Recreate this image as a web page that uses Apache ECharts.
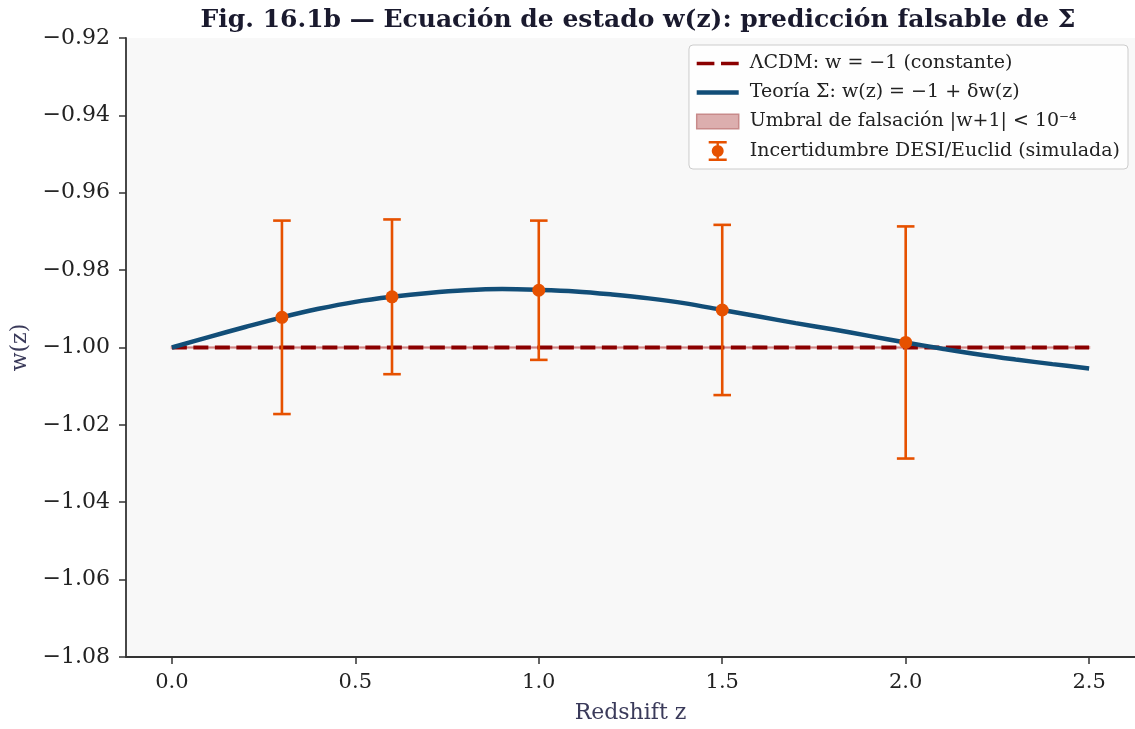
<!DOCTYPE html>
<html>
<head>
<meta charset="utf-8">
<script src="https://cdn.jsdelivr.net/npm/echarts@6/dist/echarts.min.js"></script>
<style>
  html, body { margin: 0; padding: 0; background: #ffffff; }
  #chart { width: 1135px; height: 729px; }
</style>
</head>
<body>
<div id="chart"></div>
<script>
// Redshift samples of the Σ-theory equation of state w(z)
const curveZ = [0, 0.1, 0.2, 0.3, 0.4, 0.5, 0.6, 0.7, 0.8, 0.9, 1.0, 1.1, 1.2,
                1.3, 1.4, 1.5, 1.6, 1.7, 1.8, 1.9, 2.0, 2.1, 2.2, 2.3, 2.4, 2.5];
const curveW = [-1.0000, -0.9973, -0.9947, -0.9922, -0.9900, -0.9882, -0.9869,
                -0.9859, -0.9852, -0.9849, -0.9851, -0.9855, -0.9863, -0.9873,
                -0.9886, -0.9903, -0.9920, -0.9937, -0.9953, -0.9970, -0.9987,
                -1.0003, -1.0018, -1.0031, -1.0043, -1.0054];

// ΛCDM reference: constant w = -1
const lcdmZ = [0, 2.5];
const lcdmW = [-1, -1];

// Falsification threshold band |w+1| < 1e-4
const bandZ = [0, 2.5];
const bandThreshold = 1e-4;

// Simulated DESI/Euclid measurements
const obsZ = [0.3, 0.6, 1.0, 1.5, 2.0];
const obsW = [-0.9922, -0.9869, -0.9852, -0.9903, -0.9987];
const obsErr = [0.025, 0.020, 0.018, 0.022, 0.030];

// Axis ticks
const xTicks = [0, 0.5, 1.0, 1.5, 2.0, 2.5];
const yTicks = [-1.08, -1.06, -1.04, -1.02, -1.00, -0.98, -0.96, -0.94, -0.92];

const NAMES = {
  lcdm: 'ΛCDM: w = −1 (constante)',
  sigma: 'Teoría Σ: w(z) = −1 + δw(z)',
  band: 'Umbral de falsación |w+1| < 10⁻⁴',
  obs: 'Incertidumbre DESI/Euclid (simulada)'
};

const C = {
  lcdm: '#8b0000',
  sigma: '#124e78',
  obs: '#e65100',
  bandFill: 'rgba(178,34,34,0.32)',
  axis: '#333333',
  text: '#222222',
  label: '#3a3a5a'
};

const SERIF = '"DejaVu Serif", serif';
const minus = s => s.replace('-', '\u2212');

const chart = echarts.init(document.getElementById('chart'), null, { renderer: 'canvas' });

const curveData = curveZ.map((z, i) => [z, curveW[i]]);
const lcdmData = lcdmZ.map((z, i) => [z, lcdmW[i]]);
const obsData = obsZ.map((z, i) => [z, obsW[i], obsErr[i]]);
const bandData = [[bandZ[0], bandZ[1], -1 - bandThreshold, -1 + bandThreshold]];

// Legend glyphs
const ICON_DASH = 'path://M0 0h16v3h-16z M22 0h16v3h-16z';
const ICON_LINE = 'path://M0 0h42v4.5h-42z';
const ICON_PATCH = 'path://M0 0h40v14h-40z';
const ICON_ERR = 'path://M0 0h18v2.4h-18z M0 17.6h18v2.4h-18z M7.8 0h2.4v20h-2.4z M3 10a6 6 0 1 1 12 0a6 6 0 1 1 -12 0z';

const option = {
  backgroundColor: '#ffffff',
  animation: false,
  title: {
    text: 'Fig. 16.1b — Ecuación de estado w(z): predicción falsable de Σ',
    left: 633,
    textAlign: 'center',
    top: 3,
    textStyle: { fontFamily: SERIF, fontWeight: 'bold', fontSize: 25, color: '#1a1a2e' }
  },
  grid: {
    left: 126, top: 38, width: 1011.5, height: 621,
    show: true, backgroundColor: '#f8f8f8', borderWidth: 0
  },
  legend: {
    orient: 'vertical',
    right: 7, top: 45,
    padding: [9, 8, 8, 7],
    itemWidth: 42, itemHeight: 20, itemGap: 10,
    backgroundColor: 'rgba(255,255,255,0.85)',
    borderColor: '#cccccc', borderWidth: 1, borderRadius: 4,
    textStyle: { fontFamily: SERIF, fontSize: 19, color: C.text, padding: [0, 0, 0, 6] },
    data: [
      { name: NAMES.lcdm, icon: ICON_DASH, itemStyle: { color: C.lcdm, borderWidth: 0 } },
      { name: NAMES.sigma, icon: ICON_LINE, itemStyle: { color: C.sigma, borderWidth: 0 } },
      { name: NAMES.band, icon: ICON_PATCH, itemStyle: { color: '#dcaeae', borderColor: '#c88a8a', borderWidth: 1.5 } },
      { name: NAMES.obs, icon: ICON_ERR, itemStyle: { color: C.obs, borderWidth: 0 } }
    ]
  },
  xAxis: {
    type: 'value',
    min: -0.125, max: 2.625,
    name: 'Redshift z',
    nameLocation: 'middle',
    nameGap: 45,
    nameTextStyle: { fontFamily: SERIF, fontSize: 22, color: C.label },
    axisLine: { onZero: false, lineStyle: { color: C.axis, width: 1.8 } },
    axisTick: { show: true, length: 7, lineStyle: { color: C.axis, width: 1.5 }, customValues: xTicks },
    axisLabel: {
      fontFamily: SERIF, fontSize: 21, color: C.text, margin: 15,
      customValues: xTicks,
      formatter: v => v.toFixed(1)
    },
    splitLine: { show: false }
  },
  yAxis: {
    type: 'value',
    min: -1.08, max: -0.92, interval: 0.02,
    name: 'w(z)',
    nameLocation: 'middle',
    nameRotate: 90,
    nameGap: 90,
    nameTextStyle: { fontFamily: SERIF, fontSize: 22, color: C.label },
    axisLine: { show: true, onZero: false, lineStyle: { color: C.axis, width: 1.8 } },
    axisTick: { show: true, length: 7, lineStyle: { color: C.axis, width: 1.5 }, customValues: yTicks },
    axisLabel: {
      fontFamily: SERIF, fontSize: 22, color: C.text, margin: 16,
      customValues: yTicks,
      formatter: v => minus(v.toFixed(2))
    },
    splitLine: { show: false }
  },
  series: [
    {
      // threshold band around w = -1
      name: NAMES.band,
      type: 'custom',
      data: bandData,
      encode: { x: [0, 1], y: [2, 3] },
      itemStyle: { color: '#dcaeae' },
      z: 1,
      renderItem: (params, api) => {
        const p0 = api.coord([api.value(0), api.value(3)]);
        const p1 = api.coord([api.value(1), api.value(2)]);
        return {
          type: 'rect',
          shape: { x: p0[0], y: p0[1], width: p1[0] - p0[0], height: Math.max(p1[1] - p0[1], 0.5) },
          style: { fill: C.bandFill, stroke: 'rgba(178,34,34,0.32)', lineWidth: 2.4 }
        };
      }
    },
    {
      name: NAMES.lcdm,
      type: 'line',
      data: lcdmData,
      showSymbol: false,
      symbol: 'none',
      z: 2,
      lineStyle: { color: C.lcdm, width: 3.8, type: [15, 6.5], cap: 'butt' },
      itemStyle: { color: C.lcdm }
    },
    {
      name: NAMES.sigma,
      type: 'line',
      data: curveData,
      smooth: 0.35,
      showSymbol: false,
      symbol: 'none',
      z: 3,
      lineStyle: { color: C.sigma, width: 4.5 },
      itemStyle: { color: C.sigma }
    },
    {
      // vertical error bars with caps
      name: NAMES.obs,
      type: 'custom',
      data: obsData,
      encode: { x: 0, y: 1 },
      itemStyle: { color: C.obs },
      z: 4,
      renderItem: (params, api) => {
        const z = api.value(0), w = api.value(1), e = api.value(2);
        const top = api.coord([z, w + e]);
        const bot = api.coord([z, w - e]);
        const half = 8.8;
        const st = { stroke: C.obs, lineWidth: 2.6 };
        return {
          type: 'group',
          children: [
            { type: 'line', shape: { x1: top[0], y1: top[1], x2: bot[0], y2: bot[1] }, style: st },
            { type: 'line', shape: { x1: top[0] - half, y1: top[1], x2: top[0] + half, y2: top[1] }, style: st },
            { type: 'line', shape: { x1: bot[0] - half, y1: bot[1], x2: bot[0] + half, y2: bot[1] }, style: st }
          ]
        };
      }
    },
    {
      name: NAMES.obs,
      type: 'scatter',
      data: obsData.map(d => [d[0], d[1]]),
      symbol: 'circle',
      symbolSize: 13,
      z: 5,
      itemStyle: { color: C.obs, opacity: 1 }
    }
  ]
};

chart.setOption(option);
</script>
</body>
</html>
